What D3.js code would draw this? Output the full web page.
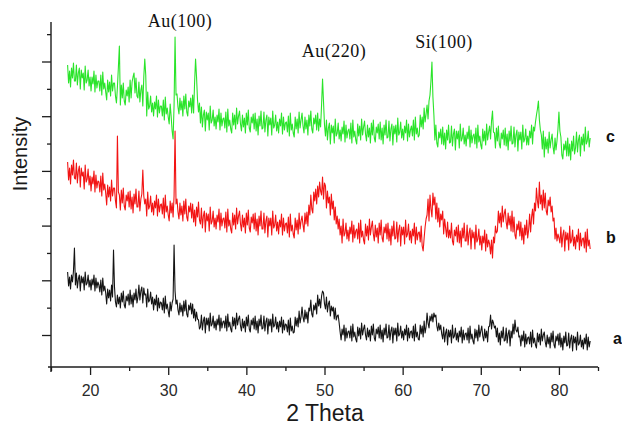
<!DOCTYPE html>
<html>
<head>
<meta charset="utf-8">
<script src="https://cdn.jsdelivr.net/npm/d3@7"></script>
<style>
  body { margin: 0; background: #fff; }
  svg { display: block; }
</style>
</head>
<body>
<svg id="chart"></svg>
<script>
// XRD scans, sampled every 0.125 deg starting at 17.125 deg (2 theta)
const scanStart = 17.125;
const scanStep = 0.125;

// intensity (a.u.), one row of 8 per degree (d+0.125 ... d+1)
const seriesC = [
  302, 284, 296, 280, 299, 289, 304, 286,  286, 302, 282, 294, 299, 278, 297, 289,
  294, 277, 301, 284, 287, 297, 281, 290,  276, 290, 283, 296, 275, 292, 279, 286,
  286, 276, 292, 272, 295, 278, 284, 275,  267, 287, 275, 285, 271, 292, 276, 284,
  284, 271, 264, 280, 300, 321, 262, 282,  269, 284, 266, 262, 277, 271, 280, 265,
  287, 269, 285, 290, 294, 274, 289, 271,  269, 285, 265, 277, 282, 261, 290, 308,
  292, 251, 275, 258, 261, 271, 255, 264,  251, 265, 258, 271, 250, 267, 254, 261,
  261, 251, 267, 247, 270, 253, 259, 250,  243, 263, 251, 236, 228, 262, 330, 272,
  273, 260, 253, 269, 257, 266, 251, 271,  258, 273, 255, 251, 266, 260, 269, 254,
  272, 254, 284, 308, 290, 267, 255, 264,  244, 260, 240, 252, 257, 236, 255, 247,
  254, 237, 261, 244, 247, 257, 241, 250,  238, 252, 245, 258, 237, 254, 241, 248,
  249, 239, 255, 235, 258, 241, 247, 238,  234, 254, 242, 252, 238, 259, 243, 251,
  256, 243, 236, 252, 240, 249, 234, 254,  242, 257, 239, 235, 250, 244, 253, 238,
  254, 236, 248, 232, 251, 241, 256, 238,  239, 255, 235, 247, 252, 231, 250, 242,
  249, 232, 256, 239, 242, 252, 236, 245,  234, 248, 241, 254, 233, 250, 237, 244,
  245, 235, 251, 231, 254, 237, 243, 234,  230, 250, 238, 248, 234, 255, 239, 247,
  254, 241, 234, 250, 238, 247, 232, 252,  241, 256, 238, 234, 249, 243, 252, 237,
  254, 236, 248, 240, 262, 288, 265, 242,  231, 247, 227, 239, 244, 223, 242, 234,
  241, 224, 248, 231, 234, 244, 228, 237,  226, 240, 233, 246, 225, 242, 229, 236,
  238, 228, 244, 224, 247, 230, 236, 227,  223, 243, 231, 241, 227, 248, 232, 240,
  246, 233, 226, 242, 230, 239, 224, 244,  232, 247, 229, 225, 240, 234, 243, 228,
  245, 227, 239, 223, 242, 232, 247, 229,  230, 246, 226, 238, 243, 222, 241, 233,
  242, 225, 249, 232, 235, 245, 229, 238,  227, 241, 234, 247, 226, 243, 230, 237,
  241, 231, 247, 227, 250, 233, 239, 230,  232, 252, 240, 250, 238, 259, 245, 253,
  262, 248, 266, 272, 286, 305, 270, 252,  227, 242, 224, 220, 235, 229, 238, 223,
  240, 222, 234, 218, 237, 227, 242, 224,  225, 241, 221, 233, 238, 217, 236, 228,
  236, 219, 243, 226, 229, 239, 223, 232,  221, 235, 228, 241, 220, 237, 224, 231,
  233, 223, 239, 219, 242, 225, 231, 222,  218, 238, 226, 236, 222, 243, 227, 235,
  241, 228, 246, 256, 235, 234, 219, 239,  226, 241, 223, 219, 234, 228, 237, 222,
  239, 221, 233, 217, 236, 226, 241, 223,  224, 240, 220, 232, 237, 216, 235, 227,
  235, 218, 242, 225, 228, 238, 222, 231,  222, 236, 229, 242, 223, 240, 236, 245,
  252, 258, 266, 247, 237, 232, 218, 236,  210, 230, 218, 228, 214, 235, 219, 227,
  233, 220, 213, 229, 217, 226, 238, 255,  236, 230, 212, 208, 223, 217, 226, 211,
  229, 211, 223, 207, 226, 216, 231, 213,  219, 235, 215, 227, 232, 211, 230, 222,
  233, 216, 240, 223, 226, 236, 220, 229
];

const seriesB = [
  205, 187, 199, 183, 202, 192, 207, 189,  188, 204, 184, 196, 201, 180, 199, 191,
  195, 178, 202, 185, 188, 198, 182, 191,  176, 190, 183, 196, 175, 192, 179, 186,
  185, 175, 191, 171, 194, 177, 183, 174,  162, 182, 170, 180, 166, 187, 171, 179,
  179, 166, 159, 231, 175, 172, 157, 177,  164, 179, 161, 157, 172, 166, 175, 160,
  176, 158, 170, 154, 173, 163, 178, 160,  160, 176, 156, 168, 173, 197, 171, 163,
  168, 151, 175, 158, 161, 171, 155, 164,  152, 166, 159, 172, 151, 168, 155, 162,
  163, 153, 169, 149, 172, 155, 161, 152,  146, 166, 154, 164, 150, 171, 236, 163,
  168, 155, 148, 164, 152, 161, 146, 166,  153, 168, 150, 146, 161, 155, 164, 149,
  163, 145, 157, 141, 160, 150, 165, 147,  143, 159, 139, 151, 156, 135, 154, 146,
  153, 136, 160, 143, 146, 156, 140, 149,  138, 152, 145, 158, 137, 154, 141, 148,
  149, 139, 155, 135, 158, 141, 147, 138,  134, 154, 142, 152, 138, 159, 143, 151,
  156, 143, 136, 152, 140, 149, 134, 154,  142, 157, 139, 135, 150, 144, 153, 138,
  154, 136, 148, 132, 151, 141, 156, 138,  138, 154, 134, 146, 151, 130, 149, 141,
  149, 132, 156, 139, 142, 152, 136, 145,  133, 147, 140, 153, 132, 149, 136, 143,
  144, 134, 150, 130, 153, 136, 142, 133,  129, 149, 137, 147, 133, 154, 138, 146,
  151, 142, 135, 154, 143, 155, 141, 162,  152, 172, 158, 154, 175, 166, 178, 163,
  181, 170, 185, 176, 172, 190, 168, 184,  181, 159, 176, 164, 170, 152, 173, 158,
  166, 147, 160, 143, 151, 138, 148, 132,  141, 124, 148, 131, 134, 144, 128, 137,
  126, 140, 133, 146, 125, 142, 129, 136,  138, 128, 144, 124, 147, 130, 136, 127,
  123, 143, 131, 141, 127, 148, 132, 140,  146, 133, 126, 142, 130, 139, 124, 144,
  132, 147, 129, 125, 140, 134, 143, 128,  144, 126, 138, 122, 141, 131, 146, 128,
  129, 145, 125, 137, 142, 121, 140, 132,  140, 123, 147, 130, 133, 143, 127, 136,
  124, 138, 131, 144, 123, 140, 127, 134,  135, 125, 141, 121, 116, 129, 140, 148,
  152, 168, 146, 172, 158, 150, 174, 162,  170, 148, 164, 145, 159, 140, 153, 147,
  156, 133, 148, 139, 130, 145, 129, 137,  129, 144, 126, 122, 137, 131, 140, 125,
  142, 124, 136, 120, 139, 129, 144, 126,  126, 142, 122, 134, 139, 118, 137, 129,
  135, 118, 142, 125, 128, 138, 122, 131,  117, 131, 124, 137, 116, 133, 120, 127,
  123, 113, 127, 109, 130, 124, 141, 134,  136, 156, 144, 154, 140, 161, 145, 153,
  158, 145, 138, 154, 142, 151, 136, 156,  135, 150, 132, 128, 143, 137, 146, 131,
  145, 127, 139, 123, 142, 132, 147, 129,  137, 153, 135, 150, 158, 143, 164, 156,
  179, 166, 159, 185, 163, 172, 157, 177,  159, 174, 156, 152, 167, 161, 170, 155,
  161, 146, 149, 128, 139, 126, 133, 129,  124, 140, 120, 132, 137, 116, 135, 127,
  134, 117, 141, 124, 127, 137, 121, 130,  118, 132, 125, 138, 117, 134, 121, 128,
  129, 119, 135, 115, 138, 121, 127, 118
];

const seriesA = [
   95,  81,  90,  78,  92,  85,  96, 119,   82,  94,  79,  88,  92,  76,  91,  84,
   90,  77,  95,  82,  84,  92,  80,  87,   77,  88,  82,  92,  76,  89,  79,  85,
   82,  75,  87,  72,  89,  76,  81,  74,   63,  78,  69,  77,  66,  82,  70, 117,
   80,  65,  60,  72,  63,  70,  59,  74,   65,  76,  62,  59,  71,  66,  73,  62,
   77,  63,  72,  60,  74,  67,  78,  64,   70,  82,  67,  76,  80,  64,  79,  72,
   73,  60,  78,  65,  67,  75,  63,  70,   57,  68,  62,  72,  56,  69,  59,  65,
   64,  57,  69,  54,  71,  58,  63,  56,   50,  65,  56,  64,  68, 122,  76,  63,
   67,  57,  52,  64,  55,  62,  51,  66,   56,  67,  53,  50,  62,  57,  64,  53,
   63,  49,  58,  46,  55,  48,  47,  38,   40,  52,  37,  46,  50,  34,  49,  42,
   49,  36,  54,  41,  43,  51,  39,  46,   37,  48,  42,  52,  36,  49,  39,  45,
   46,  39,  51,  36,  53,  40,  45,  38,   35,  50,  41,  49,  38,  54,  42,  48,
   51,  41,  36,  48,  39,  46,  35,  50,   41,  52,  38,  35,  47,  42,  49,  38,
   51,  37,  46,  34,  48,  41,  52,  38,   39,  51,  36,  45,  49,  33,  48,  41,
   48,  35,  53,  40,  42,  50,  38,  45,   35,  46,  40,  50,  34,  47,  37,  43,
   42,  35,  47,  32,  49,  36,  41,  34,   35,  50,  41,  49,  40,  56,  44,  50,
   60,  50,  45,  57,  48,  55,  44,  59,   56,  67,  53,  50,  62,  57,  64,  53,
   72,  61,  68,  59,  71,  76,  74,  63,   58,  70,  55,  63,  66,  51,  61,  56,
   60,  48,  59,  47,  51,  52,  44,  35,   27,  38,  32,  42,  26,  39,  29,  35,
   36,  29,  41,  26,  43,  30,  35,  28,   25,  40,  31,  39,  28,  44,  32,  38,
   42,  32,  27,  39,  30,  37,  26,  41,   32,  43,  29,  26,  38,  33,  40,  29,
   42,  28,  37,  25,  39,  32,  43,  29,   30,  42,  27,  36,  40,  24,  39,  32,
   39,  26,  44,  31,  33,  41,  29,  36,   27,  38,  32,  42,  26,  39,  29,  35,
   36,  29,  41,  26,  43,  30,  35,  28,   27,  42,  33,  41,  30,  46,  34,  40,
   54,  44,  39,  51,  46,  53,  45,  54,   50,  52,  41,  36,  44,  37,  42,  33,
   28,  40,  25,  34,  38,  22,  37,  30,   37,  24,  42,  29,  31,  39,  27,  34,
   25,  36,  30,  40,  24,  37,  27,  33,   34,  27,  39,  24,  41,  28,  33,  26,
   23,  38,  29,  37,  26,  42,  30,  36,   41,  31,  26,  38,  29,  36,  25,  40,
   41,  52,  38,  47,  44,  39,  41,  30,   39,  25,  34,  22,  36,  29,  40,  26,
   27,  39,  24,  33,  37,  21,  36,  29,   43,  33,  47,  37,  35,  40,  30,  31,
   21,  32,  26,  36,  20,  33,  23,  29,   30,  23,  35,  20,  37,  24,  29,  22,
   19,  34,  25,  33,  22,  38,  26,  32,   35,  25,  20,  32,  23,  30,  19,  34,
   25,  36,  22,  19,  31,  26,  33,  22,   34,  20,  29,  17,  31,  24,  35,  21,
   22,  34,  19,  28,  32,  16,  31,  24,   30,  17,  35,  22,  24,  32,  20,  27,
   18,  29,  23,  33,  17,  30,  20,  26
];

const seriesNames = ["a", "b", "c"];
const seriesColors = ["#141414", "#f21414", "#2ae42a"];
const xMajorTicks = [20, 30, 40, 50, 60, 70, 80];
const xMinorTicks = [15, 25, 35, 45, 55, 65, 75, 85];
const peakLabels = ["Au(100)", "Au(220)", "Si(100)"];

const width = 622;
const height = 426;

const svg = d3.select("#chart").attr("width", width).attr("height", height);

const x = d3.scaleLinear().domain([15, 85]).range([51, 598]);
const y = d3.scaleLinear().domain([0, 345]).range([367, 22]);

const axisColor = "#1c1c1c";

// traces
const line = d3.line()
  .x((d, i) => x(scanStart + i * scanStep))
  .y(d => y(d));

const allSeries = [seriesA, seriesB, seriesC];
svg.append("g")
  .selectAll("path")
  .data(allSeries)
  .join("path")
  .attr("d", d => line(d))
  .attr("fill", "none")
  .attr("stroke", (d, i) => seriesColors[i])
  .attr("stroke-width", 1.1)
  .attr("stroke-linejoin", "round");

// x axis
const xAxisG = svg.append("g").attr("transform", `translate(0,${y(0)})`);
xAxisG.call(
  d3.axisBottom(x).tickValues(xMajorTicks).tickSize(8).tickPadding(10)
);
xAxisG.append("g").call(
  d3.axisBottom(x).tickValues(xMinorTicks).tickSize(4).tickFormat("")
).select(".domain").remove();
xAxisG.select(".domain").remove();
xAxisG.append("line")
  .attr("x1", 48).attr("x2", x(85))
  .attr("stroke", axisColor).attr("stroke-width", 1.4);
xAxisG.selectAll(".tick line").attr("stroke", axisColor).attr("stroke-width", 1.3);
xAxisG.selectAll(".tick text")
  .attr("fill", "#2a2a2a")
  .style("font-family", "'Liberation Sans', Arial, sans-serif")
  .style("font-size", "16px");

// y axis (no labels, alternating tick lengths)
const yTicks = d3.range(32, 340, 27.35);
const yAxisG = svg.append("g").attr("transform", `translate(${x(15)},0)`);
yAxisG.call(
  d3.axisLeft(y).tickValues(yTicks).tickFormat("").tickSize(9)
);
yAxisG.select(".domain").remove();
yAxisG.selectAll(".tick line")
  .attr("x2", (d, i) => (i % 2 === 0 ? -9 : -4))
  .attr("stroke", axisColor).attr("stroke-width", 1.3);
yAxisG.append("line")
  .attr("y1", 22).attr("y2", 372)
  .attr("stroke", axisColor).attr("stroke-width", 1.4);

// axis titles
svg.append("text")
  .attr("x", 325).attr("y", 421)
  .attr("text-anchor", "middle")
  .attr("fill", "#1a1a1a")
  .style("font-family", "'Liberation Sans', Arial, sans-serif")
  .style("font-size", "23px")
  .text("2 Theta");

svg.append("text")
  .attr("transform", "translate(27,154) rotate(-90)")
  .attr("text-anchor", "middle")
  .attr("fill", "#1a1a1a")
  .style("font-family", "'Liberation Sans', Arial, sans-serif")
  .style("font-size", "20px")
  .text("Intensity");

// peak annotations
const peakPos = [[180, 27], [334, 57], [444, 48]];
svg.append("g")
  .selectAll("text")
  .data(peakLabels)
  .join("text")
  .attr("x", (d, i) => peakPos[i][0])
  .attr("y", (d, i) => peakPos[i][1])
  .attr("text-anchor", "middle")
  .attr("fill", "#111")
  .style("font-family", "'Liberation Serif', 'Times New Roman', serif")
  .style("font-size", "18px")
  .style("letter-spacing", "0.5px")
  .text(d => d);

// series labels at right
const namePos = [[613, 344], [606, 243], [606, 142]];
svg.append("g")
  .selectAll("text")
  .data(seriesNames)
  .join("text")
  .attr("x", (d, i) => namePos[i][0])
  .attr("y", (d, i) => namePos[i][1])
  .attr("fill", "#111")
  .style("font-family", "'Liberation Sans', Arial, sans-serif")
  .style("font-weight", "bold")
  .style("font-size", "16px")
  .text(d => d);
</script>
</body>
</html>
